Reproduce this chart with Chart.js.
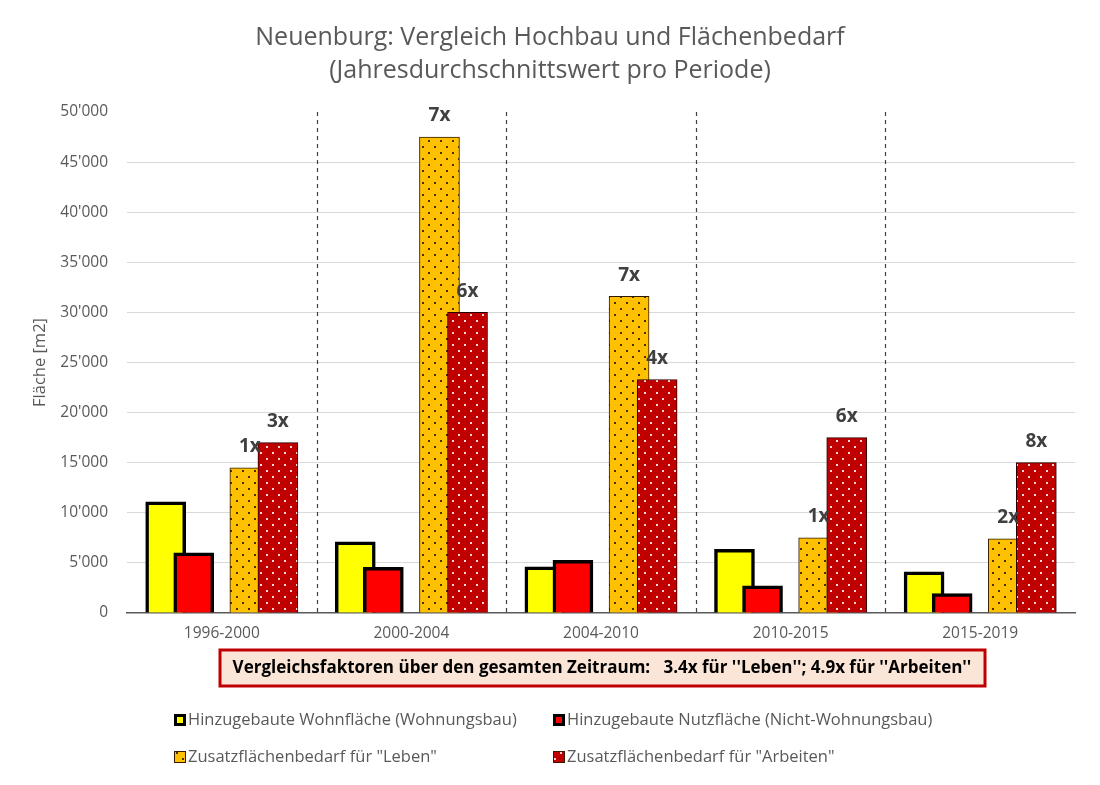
<!DOCTYPE html>
<html>
<head>
<meta charset="utf-8">
<title>Neuenburg: Vergleich Hochbau und Flächenbedarf</title>
<script src="https://cdn.jsdelivr.net/npm/chart.js@4.4.0/dist/chart.umd.min.js"></script>
<style>
	body { margin: 0; background: #ffffff; }
	canvas { display: block; }
</style>
</head>
<body>
<canvas id="myChart" width="1100" height="785"></canvas>
<script>
// Daten (Jahresdurchschnitt pro Periode, m2)
const perioden = ['1996-2000', '2000-2004', '2004-2010', '2010-2015', '2015-2019'];
const wohnflaeche = [11100, 7100, 4600, 6350, 4100];
const nutzflaeche = [6000, 4550, 5250, 2700, 1950];
const bedarfLeben = [14500, 47500, 31600, 7500, 7400];
const bedarfArbeiten = [17000, 30000, 23300, 17500, 15000];
const faktorLeben = ['1x', '7x', '7x', '1x', '2x'];
const faktorArbeiten = ['3x', '6x', '4x', '6x', '8x'];

const legendeTexte = [
	'Hinzugebaute Wohnfläche (Wohnungsbau)',
	'Hinzugebaute Nutzfläche (Nicht-Wohnungsbau)',
	'Zusatzflächenbedarf für "Leben"',
	'Zusatzflächenbedarf für "Arbeiten"'
];
const vergleichText = "Vergleichsfaktoren über den gesamten Zeitraum:   3.4x für ''Leben''; 4.9x für ''Arbeiten''";

const grau = '#595959';
Chart.defaults.font.family = "'Open Sans', 'Noto Sans', sans-serif";

var canvas = document.getElementById('myChart');
var ctx = canvas.getContext('2d');

function punktMuster(grund, punkt) {
	var c = document.createElement('canvas');
	c.width = 12;
	c.height = 12;
	var g = c.getContext('2d');
	g.fillStyle = grund;
	g.fillRect(0, 0, 12, 12);
	g.fillStyle = punkt;
	g.fillRect(2, 2, 2, 2);
	g.fillRect(8, 8, 2, 2);
	return ctx.createPattern(c, 'repeat');
}

var musterLeben = punktMuster('#FFC000', '#4a3200');
var musterArbeiten = punktMuster('#C00000', '#ffd8d8');

// Position der Balken innerhalb einer Periode (in Kategorie-Einheiten)
var slot = 0.148;

function punkte(werte, versatz) {
	return werte.map(function (v, i) {
		return { x: i + versatz, y: v };
	});
}

function tausender(v) {
	if (v == 0) return '0';
	var k = Math.floor(v / 1000);
	var r = String(v % 1000).padStart(3, '0');
	return k + "'" + r;
}

const trennlinien = {
	id: 'trennlinien',
	beforeDatasetsDraw(chart) {
		var c = chart.ctx;
		var xs = chart.scales.x;
		var area = chart.chartArea;
		c.save();
		c.strokeStyle = '#404040';
		c.lineWidth = 1.2;
		c.setLineDash([4, 4]);
		for (var i = 0; i < perioden.length - 1; i++) {
			var px = Math.round(xs.getPixelForValue(i + 0.5)) + 0.5;
			c.beginPath();
			c.moveTo(px, area.top);
			c.lineTo(px, area.bottom);
			c.stroke();
		}
		c.restore();
	}
};

const faktoren = {
	id: 'faktoren',
	afterDatasetsDraw(chart) {
		var c = chart.ctx;
		c.save();
		c.font = "bold 19px 'Open Sans', sans-serif";
		c.fillStyle = '#404040';
		c.textAlign = 'center';
		c.textBaseline = 'middle';
		[[2, faktorLeben], [3, faktorArbeiten]].forEach(function (paar) {
			var meta = chart.getDatasetMeta(paar[0]);
			meta.data.forEach(function (bar, i) {
				c.fillText(paar[1][i], bar.x, bar.y - 21);
			});
		});
		c.restore();
	}
};

const unterteil = {
	id: 'unterteil',
	afterDraw(chart) {
		var c = chart.ctx;
		c.save();
		// Vergleichsbox
		c.fillStyle = '#FBE5D6';
		c.fillRect(220, 650, 765, 36);
		c.strokeStyle = '#C00000';
		c.lineWidth = 3;
		c.strokeRect(220, 650, 765, 36);
		var gr = 17;
		c.font = 'bold ' + gr + "px 'Open Sans', sans-serif";
		while (c.measureText(vergleichText).width > 748 && gr > 10) {
			gr -= 0.5;
			c.font = 'bold ' + gr + "px 'Open Sans', sans-serif";
		}
		c.fillStyle = '#000000';
		c.textAlign = 'center';
		c.textBaseline = 'middle';
		c.fillText(vergleichText, 602, 668);

		// Legende
		var eintraege = [
			{ x: 174, y: 720, farbe: '#FFFF00', dick: true },
			{ x: 553, y: 720, farbe: '#FF0000', dick: true },
			{ x: 174, y: 757, farbe: musterLeben, dick: false },
			{ x: 553, y: 757, farbe: musterArbeiten, dick: false }
		];
		c.font = "16.5px 'Open Sans', sans-serif";
		c.textAlign = 'left';
		eintraege.forEach(function (e, i) {
			if (e.dick) {
				c.fillStyle = '#000000';
				c.fillRect(e.x, e.y - 6, 12, 12);
				c.fillStyle = e.farbe;
				c.fillRect(e.x + 3, e.y - 3, 6, 6);
			} else {
				c.fillStyle = e.farbe;
				c.fillRect(e.x, e.y - 6, 12, 12);
				c.strokeStyle = '#3a1a00';
				c.lineWidth = 1;
				c.strokeRect(e.x + 0.5, e.y - 5.5, 11, 11);
			}
			c.fillStyle = grau;
			c.fillText(legendeTexte[i], e.x + 14, e.y);
		});
		c.restore();
	}
};

new Chart(ctx, {
	type: 'bar',
	data: {
		datasets: [{
			label: legendeTexte[0],
			data: punkte(wohnflaeche, -2 * slot),
			backgroundColor: '#FFFF00',
			borderColor: '#000000',
			borderWidth: 3.5,
			order: 4
		}, {
			label: legendeTexte[1],
			data: punkte(nutzflaeche, -slot),
			backgroundColor: '#FF0000',
			borderColor: '#000000',
			borderWidth: 3.5,
			order: 3
		}, {
			label: legendeTexte[2],
			data: punkte(bedarfLeben, slot),
			backgroundColor: musterLeben,
			borderColor: '#2b1a00',
			borderWidth: 1,
			order: 2
		}, {
			label: legendeTexte[3],
			data: punkte(bedarfArbeiten, 2 * slot),
			backgroundColor: musterArbeiten,
			borderColor: '#2b0000',
			borderWidth: 1,
			order: 1
		}]
	},
	options: {
		responsive: false,
		animation: false,
		datasets: {
			bar: { grouped: false, barThickness: 40 }
		},
		layout: { padding: { left: 25, right: 25, top: 0, bottom: 132 } },
		plugins: {
			legend: { display: false },
			tooltip: { enabled: false },
			title: {
				display: true,
				text: ['Neuenburg: Vergleich Hochbau und Flächenbedarf', '(Jahresdurchschnittswert pro Periode)'],
				color: grau,
				font: { size: 25, weight: 'normal', lineHeight: 1.3 },
				padding: { top: 22, bottom: 25 }
			}
		},
		scales: {
			x: {
				type: 'linear',
				min: -0.5,
				max: 4.5,
				offset: false,
				afterBuildTicks: function (s) {
					s.ticks = perioden.map(function (p, i) { return { value: i }; });
				},
				afterFit: function (s) { s.height = 40; },
				ticks: {
					callback: function (v) { return perioden[v]; },
					autoSkip: false,
					maxRotation: 0,
					color: grau,
					font: { size: 15.5 },
					padding: 11
				},
				grid: { display: false, drawTicks: false, offset: false },
				border: { display: true, color: '#595959', width: 1.5 }
			},
			y: {
				min: 0,
				max: 50000,
				afterFit: function (s) { s.width = 102; },
				ticks: {
					stepSize: 5000,
					callback: tausender,
					color: grau,
					font: { size: 15.5 },
					padding: 19
				},
				grid: {
					drawTicks: false,
					color: function (c) {
						if (c.tick.value == 0 || c.tick.value == 50000) return 'rgba(0,0,0,0)';
						return '#d9d9d9';
					}
				},
				border: { display: false },
				title: {
					display: true,
					text: 'Fläche [m2]',
					color: grau,
					font: { size: 16.5 },
					padding: { top: 5, bottom: 0 }
				}
			}
		}
	},
	plugins: [trennlinien, faktoren, unterteil]
});
</script>
</body>
</html>
